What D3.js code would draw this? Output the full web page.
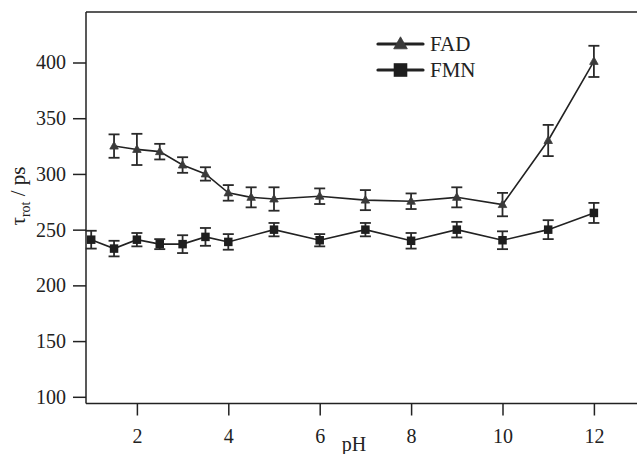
<!DOCTYPE html>
<html>
<head>
<meta charset="utf-8">
<script src="https://cdn.jsdelivr.net/npm/d3@7"></script>
<style>
  body { margin: 0; background: #fff; }
  svg { display: block; }
  text { font-family: "Liberation Serif", "Times New Roman", serif; fill: #222; }
</style>
</head>
<body>
<svg id="chart" width="637" height="454"></svg>
<script>
// ---- data ----
const fadPH  = [1.5, 2, 2.5, 3, 3.5, 4, 4.5, 5, 6, 7, 8, 9, 10, 11, 12];
const fadTau = [325, 322, 320, 308, 300, 283, 279, 277.5, 280, 276.5, 275.5, 279, 272.5, 330, 401];
const fadErr = [10.5, 14, 7, 7, 6, 7, 9, 10.5, 7, 9, 7, 9, 10.5, 14, 14];

const fmnPH  = [1, 1.5, 2, 2.5, 3, 3.5, 4, 5, 6, 7, 8, 9, 10, 11, 12];
const fmnTau = [241, 233, 241, 237, 237, 243.5, 239, 250, 240.5, 250, 240, 250, 240.5, 250, 265];
const fmnErr = [8, 7, 6, 4.5, 8, 8, 7, 6, 5.5, 6, 7, 7, 8, 8.5, 9];

const xTicks = [2, 4, 6, 8, 10, 12];
const yTicks = [100, 150, 200, 250, 300, 350, 400];
const seriesNames = ["FAD", "FMN"];

// ---- layout ----
(function () {
const svg = d3.select("#chart");
const pLeft = 86, pTop = 12, pBottom = 403.5, pRight = 700;
const x = d3.scaleLinear().domain([2, 12]).range([136.9, 593.9]);
const y = d3.scaleLinear().domain([100, 400]).range([396.8, 62.5]);

const ink = "#222";

// frame top
svg.append("line").attr("x1", pLeft).attr("x2", pRight).attr("y1", pTop).attr("y2", pTop)
  .attr("stroke", ink).attr("stroke-width", 1.5);

// axes
const yAxis = svg.append("g").attr("transform", `translate(${pLeft},0)`)
  .call(d3.axisLeft(y).tickValues(yTicks).tickSize(13).tickPadding(7).tickSizeOuter(0));
yAxis.select(".domain").remove();
svg.append("line").attr("x1", pLeft).attr("x2", pLeft).attr("y1", pTop).attr("y2", pBottom)
  .attr("stroke", ink).attr("stroke-width", 1.5);

const xAxis = svg.append("g").attr("transform", `translate(0,${pBottom})`)
  .call(d3.axisBottom(x).tickValues(xTicks).tickSize(12).tickPadding(13).tickSizeOuter(0));
xAxis.select(".domain").remove();
svg.append("line").attr("x1", pLeft).attr("x2", pRight).attr("y1", pBottom).attr("y2", pBottom)
  .attr("stroke", ink).attr("stroke-width", 1.5);

svg.selectAll(".tick line").attr("stroke", ink).attr("stroke-width", 1.5);
svg.selectAll(".tick text").attr("font-size", 20).attr("fill", ink);

// axis titles
svg.append("text").attr("x", 354).attr("y", 451).attr("text-anchor", "middle")
  .attr("font-size", 20).text("pH");

const yt = svg.append("text").attr("transform", "translate(25,196) rotate(-90)")
  .attr("text-anchor", "middle").attr("font-size", 21);
yt.append("tspan").text("τ");
yt.append("tspan").attr("font-size", 14).attr("dy", 5).text("rot");
yt.append("tspan").attr("dy", -5).text(" / ps");

function triangle(sel, cx, cy, s) {
  const w = 8.5 * s, h = 7.5 * s;
  sel.append("path")
    .attr("d", `M${cx},${cy - h * 0.6}L${cx + w / 2},${cy + h * 0.4}L${cx - w / 2},${cy + h * 0.4}Z`)
    .attr("fill", "#3a3a3a").attr("stroke", "#3a3a3a").attr("stroke-width", 0.8).attr("stroke-linejoin", "round");
}
function square(sel, cx, cy, s) {
  const a = 8.5 * s;
  sel.append("rect").attr("x", cx - a / 2).attr("y", cy - a / 2).attr("width", a).attr("height", a)
    .attr("fill", "#1e1e1e");
}

// series
function drawSeries(px, tau, err, marker) {
  const pts = px.map((p, i) => ({ p, t: tau[i], e: err[i] }));
  const line = d3.line().x(d => x(d.p)).y(d => y(d.t));
  svg.append("path").datum(pts).attr("d", line).attr("fill", "none")
    .attr("stroke", ink).attr("stroke-width", 1.6);
  const g = svg.append("g").attr("stroke", "#2a2a2a").attr("stroke-width", 1.8);
  pts.forEach(d => {
    const cx = x(d.p), y1 = y(d.t + d.e), y2 = y(d.t - d.e);
    g.append("line").attr("x1", cx).attr("x2", cx).attr("y1", y1).attr("y2", y2);
    g.append("line").attr("x1", cx - 5.5).attr("x2", cx + 5.5).attr("y1", y1).attr("y2", y1);
    g.append("line").attr("x1", cx - 5.5).attr("x2", cx + 5.5).attr("y1", y2).attr("y2", y2);
  });
  pts.forEach(d => marker(svg, x(d.p), y(d.t), 1));
}

drawSeries(fadPH, fadTau, fadErr, triangle);
drawSeries(fmnPH, fmnTau, fmnErr, square);

// legend
const legend = [
  { name: seriesNames[0], y: 44, marker: triangle, s: 1.6 },
  { name: seriesNames[1], y: 70, marker: square, s: 1.6 }
];
legend.forEach(l => {
  svg.append("line").attr("x1", 378).attr("x2", 423).attr("y1", l.y).attr("y2", l.y)
    .attr("stroke", ink).attr("stroke-width", 3.2).attr("stroke-linecap", "round");
  l.marker(svg, 400.5, l.y, l.s);
  svg.append("text").attr("x", 430).attr("y", l.y + 7).attr("font-size", 21).text(l.name);
});
})();
</script>
</body>
</html>
